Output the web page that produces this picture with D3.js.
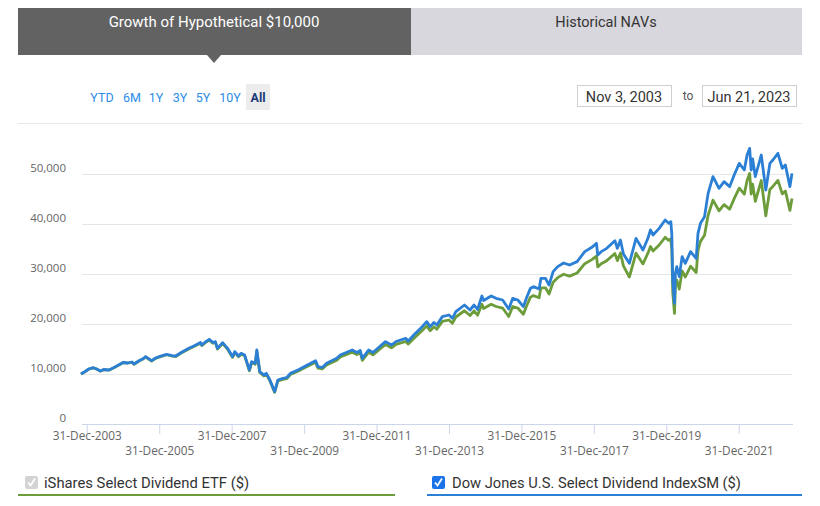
<!DOCTYPE html>
<html><head><meta charset="utf-8">
<script src="https://cdn.jsdelivr.net/npm/d3@7"></script>
<style>
body{margin:0;background:#fff;font-family:Roboto,"Open Sans",sans-serif;}
svg{display:block;}
</style></head>
<body>
<svg id="chart" width="820" height="506"></svg>
<script>
// ---- data ----
const dates = ["2003-11-03","2003-12-15","2004-01-20","2004-03-05","2004-04-10","2004-05-15","2004-06-20","2004-08-10","2004-09-15","2004-11-15","2004-12-31",
"2005-02-15","2005-03-31","2005-04-20","2005-06-15","2005-07-25","2005-08-15","2005-10-15","2005-11-25","2005-12-31",
"2006-03-15","2006-05-10","2006-06-15","2006-08-10","2006-10-25","2006-12-15",
"2007-02-20","2007-03-05","2007-04-10","2007-05-20","2007-06-25","2007-07-20","2007-08-10","2007-10-01","2007-11-20",
"2008-01-10","2008-02-01","2008-03-10","2008-04-05","2008-05-10","2008-06-27","2008-07-20","2008-08-25","2008-09-10","2008-10-10","2008-11-20","2008-12-15",
"2009-01-20","2009-03-09","2009-04-10","2009-06-01","2009-07-10","2009-08-15","2009-10-30","2009-12-31",
"2010-04-25","2010-05-20","2010-07-01","2010-08-15","2010-11-25","2010-12-31",
"2011-04-30","2011-06-15","2011-07-20","2011-08-10","2011-10-12","2011-11-25",
"2012-03-30","2012-05-30","2012-07-15","2012-10-20","2012-11-15",
"2013-01-15","2013-04-05","2013-05-20","2013-06-24","2013-08-01","2013-08-30","2013-10-25","2013-12-31",
"2014-02-03","2014-03-10","2014-06-05","2014-07-31","2014-09-10","2014-10-15","2014-11-28","2014-12-15",
"2015-03-01","2015-04-20","2015-06-25","2015-08-25","2015-10-05","2015-11-25",
"2016-01-20","2016-02-20","2016-03-31","2016-05-01","2016-06-27","2016-07-15","2016-08-30","2016-10-05","2016-11-15","2016-12-31",
"2017-03-01","2017-04-30","2017-07-15","2017-09-30","2017-12-15",
"2018-01-26","2018-02-08","2018-03-15","2018-05-10","2018-07-31","2018-08-25","2018-09-25","2018-10-25","2018-12-24",
"2019-03-01","2019-05-10","2019-06-30","2019-07-25","2019-08-20","2019-10-20","2019-12-20",
"2020-01-25","2020-02-15","2020-02-25","2020-03-05","2020-03-23","2020-04-01","2020-04-15","2020-05-10","2020-06-08","2020-07-10","2020-09-01","2020-10-28","2020-11-15","2020-12-10",
"2021-01-20","2021-02-25","2021-04-15","2021-06-15","2021-08-05","2021-09-30","2021-11-15",
"2022-01-05","2022-02-25","2022-03-25","2022-04-20","2022-05-05","2022-05-20","2022-06-16","2022-08-15","2022-09-30","2022-11-10","2022-12-10",
"2023-01-30","2023-03-15","2023-04-15","2023-05-31","2023-06-21"];

const indexValues = [10000,10500,11000,11260,11000,10600,10900,10800,11130,11800,12300,
12200,12400,12000,12700,13100,13470,12670,13200,13470,
13930,13670,13600,14300,15130,15600,
16300,15800,16400,16930,16300,16470,15130,16270,15130,
13470,14470,13600,14130,13800,10800,12470,12130,14800,10470,9800,10130,
8800,6470,8800,9130,9300,10130,10800,11470,
12670,11470,11300,12130,13130,13800,
14800,14300,14700,13130,14800,14300,
16470,15800,16500,17130,16600,
17900,19470,20470,19470,20300,19800,21470,21800,
21130,22470,23800,22800,23800,22900,25600,24700,
25600,25130,24800,23000,25130,24800,
23470,25200,27130,27470,27000,29130,29130,27800,30470,31470,
32200,31800,32470,34470,35400,
36130,33800,34470,35130,36670,35130,36800,34000,32130,
37130,34800,37200,38800,37800,39130,40800,
40130,40470,38000,28800,24130,30130,31470,29470,33470,32130,34470,33130,38130,40130,
41470,46130,49470,47130,48470,47470,49800,
52130,50800,53800,55130,50800,53000,49500,53800,46800,52130,52800,
54130,51130,51800,47470,50130];

const etfValues = [10000,10480,10980,11230,10970,10570,10870,10770,11100,11760,12260,
12160,12350,11950,12640,13040,13400,12600,13130,13390,
13850,13580,13510,14200,15020,15480,
16170,15670,16260,16780,16150,16310,14980,16100,14970,
13320,14300,13440,13960,13630,10650,12290,11950,14550,10300,9620,9940,
8630,6320,8600,8920,9080,9890,10540,11190,
12340,11170,11000,11800,12760,13410,
14370,13880,14260,12720,14330,13840,
15910,15250,15920,16500,15980,
17200,18690,19630,18660,19440,18950,20520,20800,
20150,21400,22650,21700,22630,21770,23940,23090,
23940,23500,23190,21500,23500,23190,
21950,23560,25370,25680,25250,27240,27240,26000,28340,29270,
29950,29570,30200,32060,32920,
33600,31430,32060,32670,34100,32670,34220,31620,29400,
34170,32020,34220,35500,34590,35800,37330,
36720,37030,34770,26350,22130,27570,28800,26970,30630,29400,31540,30310,34700,36520,
37740,41750,44770,42650,43870,42960,45070,
47180,45970,48690,50130,45970,47970,44550,48690,41650,46920,47520,
48720,46020,46620,42720,45120];

const yTicks = [0,10000,20000,30000,40000,50000];
const xTickDates = ["2003-12-31","2005-12-31","2007-12-31","2009-12-31","2011-12-31","2013-12-31","2015-12-31","2017-12-31","2019-12-31","2021-12-31"];
const rangeButtons = ["YTD","6M","1Y","3Y","5Y","10Y","All"];
const tabLabels = ["Growth of Hypothetical $10,000","Historical NAVs"];
const seriesNames = ["iShares Select Dividend ETF ($)","Dow Jones U.S. Select Dividend IndexSM ($)"];
const dateRange = ["Nov 3, 2003","Jun 21, 2023"];

// ---- drawing ----
const parse = d3.timeParse("%Y-%m-%d");
const svg = d3.select("#chart");
const blue = "#2b7fd4", green = "#6d9c3b";

// tabs
svg.append("rect").attr("x",18).attr("y",8).attr("width",393).attr("height",47).attr("fill","#626262");
svg.append("rect").attr("x",411).attr("y",8).attr("width",391).attr("height",47).attr("fill","#d8d7de");
svg.append("path").attr("d","M207,55 L221,55 L214,63 Z").attr("fill","#626262");
svg.append("text").attr("x",214).attr("y",27).attr("text-anchor","middle").attr("fill","#fff")
  .attr("font-size",15).text(tabLabels[0]);
svg.append("text").attr("x",606).attr("y",27).attr("text-anchor","middle").attr("fill","#333")
  .attr("font-size",14.5).text(tabLabels[1]);

// range buttons
const btnX = [102,132,156,180,203,230,258];
svg.append("rect").attr("x",246).attr("y",84).attr("width",24).attr("height",26).attr("fill","#ececec");
rangeButtons.forEach((b,i)=>{
  svg.append("text").attr("x",btnX[i]).attr("y",102).attr("text-anchor","middle")
    .attr("font-size",12.5).attr("font-weight", i===6?"bold":"normal")
    .attr("fill", i===6?"#1b3a78":"#2b8de6").text(b);
});

// date boxes
[[577,dateRange[0]],[702,dateRange[1]]].forEach(([x,t])=>{
  svg.append("rect").attr("x",x+0.5).attr("y",85.5).attr("width",94).attr("height",21)
    .attr("fill","#fff").attr("stroke","#cfcfcf");
  svg.append("text").attr("x",x+47).attr("y",101.5).attr("text-anchor","middle")
    .attr("font-size",14.5).attr("fill","#333").text(t);
});
svg.append("text").attr("x",688).attr("y",100).attr("text-anchor","middle")
  .attr("font-size",12).attr("fill","#555").text("to");

// separator line
svg.append("line").attr("x1",18).attr("x2",802).attr("y1",123.5).attr("y2",123.5).attr("stroke","#e8e8e8");

// scales
const x = d3.scaleTime().domain([parse("2003-11-03"),parse("2023-06-21")]).range([81,792]);
const y = d3.scaleLinear().domain([0,50000]).range([424,174]);

// grid + y labels
const fmt = d3.format(",");
yTicks.forEach(v=>{
  if(v>0) svg.append("line").attr("x1",82).attr("x2",792).attr("y1",y(v)+0.5).attr("y2",y(v)+0.5)
    .attr("stroke","#e6e6e6");
  svg.append("text").attr("x",66).attr("y",y(v)-2).attr("text-anchor","end")
    .attr("font-size",11.5).attr("fill","#666").attr("font-family","'Open Sans',sans-serif").text(fmt(v));
});

// x axis
const xAxis = d3.axisBottom(x).tickValues(xTickDates.map(parse))
  .tickFormat(d3.timeFormat("%d-%b-%Y")).tickSize(10).tickSizeOuter(0);
const gx = svg.append("g").attr("transform","translate(0,424)").call(xAxis);
gx.select(".domain").attr("stroke","#ccd6eb").attr("d","M82,0.5H793");
gx.selectAll(".tick line").attr("stroke","#ccd6eb");
gx.selectAll(".tick text").attr("fill","#666").attr("font-size",11.8)
  .attr("font-family","'Open Sans',sans-serif")
  .attr("y",(d,i)=> i%2===0 ? 8 : 23).attr("dy","0.71em");

// lines
const pts = (vals)=> dates.map((d,i)=>({d:parse(d), v:vals[i]}));
const line = d3.line().x(p=>x(p.d)).y(p=>y(p.v)).curve(d3.curveLinear);
svg.append("path").datum(pts(etfValues)).attr("d",line).attr("fill","none")
  .attr("stroke",green).attr("stroke-width",2.8).attr("stroke-linejoin","round");
svg.append("path").datum(pts(indexValues)).attr("d",line).attr("fill","none")
  .attr("stroke",blue).attr("stroke-width",2.8).attr("stroke-linejoin","round");

// legend
function checkbox(xp, fill){
  svg.append("rect").attr("x",xp).attr("y",476).attr("width",13).attr("height",13).attr("rx",2).attr("fill",fill);
  svg.append("path").attr("d",`M${xp+3},${482.5} L${xp+5.5},${485.5} L${xp+10},${478.5}`)
    .attr("fill","none").attr("stroke","#fff").attr("stroke-width",1.8);
}
checkbox(25,"#d3d3d3");
checkbox(432,"#1a73e8");
svg.append("text").attr("x",44).attr("y",487.5).attr("font-size",14.8).attr("fill","#333").text(seriesNames[0]);
svg.append("text").attr("x",452).attr("y",487.5).attr("font-size",14.7).attr("fill","#333").text(seriesNames[1]);
svg.append("rect").attr("x",18).attr("y",494).attr("width",377).attr("height",2).attr("fill",green);
svg.append("rect").attr("x",427).attr("y",494).attr("width",375).attr("height",2).attr("fill",blue);
</script>
</body></html>
